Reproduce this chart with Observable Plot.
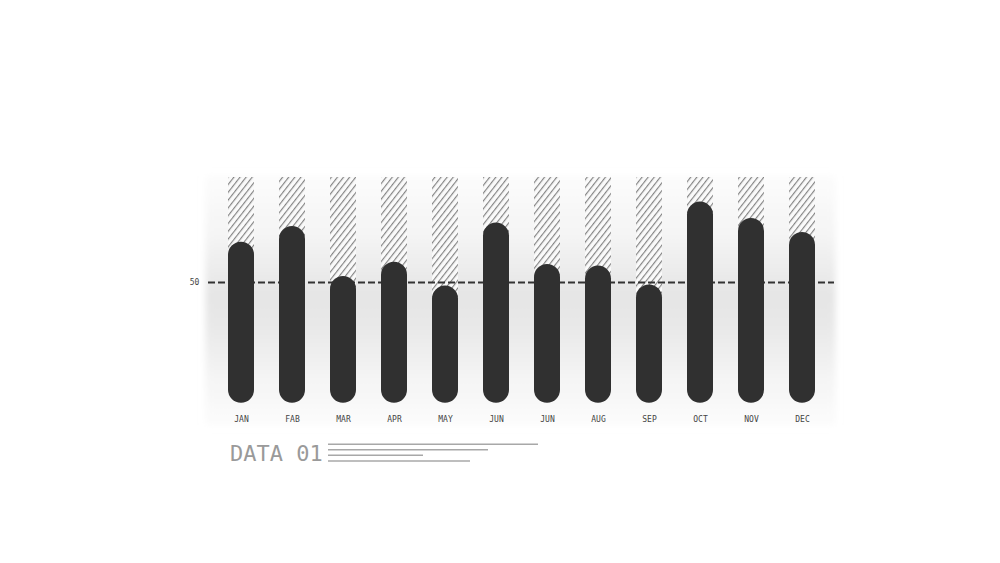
<!DOCTYPE html>
<html>
<head>
<meta charset="utf-8">
<script src="https://cdn.jsdelivr.net/npm/d3@7"></script>
<script src="https://cdn.jsdelivr.net/npm/@observablehq/plot@0.6"></script>
<style>
  html, body { margin: 0; padding: 0; background: #ffffff; }
  #wrap { position: relative; width: 1000px; height: 563px; overflow: hidden; }
  #wrap > svg { position: absolute; left: 0; top: 0; }
  #caption { position: absolute; left: 230px; top: 443px; font: 22px "DejaVu Sans Mono", monospace; line-height: 22px; color: #9a9a9a; white-space: pre; }
  #deco { position: absolute; left: 0; top: 0; }
</style>
</head>
<body>
<div id="wrap">
  <div id="caption">DATA 01</div>
</div>
<script>
// ---- data ----
const months = ["JAN","FAB","MAR","APR","MAY","JUN","JUN","AUG","SEP","OCT","NOV","DEC"];
const values = [66.7, 73.2, 52.5, 58.4, 48.5, 74.6, 57.5, 56.8, 49.0, 83.3, 76.5, 70.7];
const ceiling = 93.5;          // top of the hatched background columns
const referenceLine = [50];    // dashed reference value
const yTicks = [50];
const captionLineLengths = [210, 160, 95, 142]; // decorative lines next to "DATA 01"

const table = months.map((m, i) => ({i, month: m, value: values[i], cap: ceiling}));

const chart = Plot.plot({
  width: 1000,
  height: 563,
  marginLeft: 214.4,
  marginRight: 171.4,
  marginTop: 161.3,
  marginBottom: 160.3,
  style: {background: "transparent", overflow: "visible"},
  x: {type: "band", domain: d3.range(months.length), paddingInner: 0.49, paddingOuter: 0.245, axis: null},
  y: {domain: [0, 100], axis: null},
  marks: [
    Plot.frame({fill: "url(#panelGrad)", stroke: "none", insetTop: 13.7, insetBottom: -22.3, insetLeft: -9.4, insetRight: -6.4}),
    Plot.barY(table, {x: "i", y1: d => d.value - 6, y2: "cap", fill: "url(#hatch)"}),
    Plot.ruleY(referenceLine, {stroke: "#333333", strokeWidth: 2, strokeDasharray: "7,3", insetLeft: -6.4, insetRight: -5.4}),
    Plot.barY(table, {x: "i", y: "value", fill: "#303030", rx: 13, ry: 13}),
    Plot.axisX({tickSize: 0, tickPadding: 13.5, tickFormat: i => months[i], fontSize: 8, fontFamily: "DejaVu Sans Mono, monospace", fill: "#444", label: null}),
    Plot.axisY({ticks: yTicks, tickSize: 0, tickPadding: 15.5, fontSize: 8, fontFamily: "DejaVu Sans Mono, monospace", fill: "#444", label: null})
  ]
});

const svg = d3.select(chart);
const defs = svg.insert("defs", ":first-child");
const grad = defs.append("linearGradient").attr("id", "panelGrad").attr("x1", 0).attr("y1", 0).attr("x2", 0).attr("y2", 1);
[["0%", "#fcfcfc"], ["25%", "#f4f4f4"], ["48%", "#e5e5e5"], ["60%", "#e8e8e8"], ["80%", "#f4f4f4"], ["100%", "#fcfcfc"]]
  .forEach(([o, c]) => grad.append("stop").attr("offset", o).attr("stop-color", c));
const pat = defs.append("pattern").attr("id", "hatch").attr("patternUnits", "userSpaceOnUse")
  .attr("width", 4.8).attr("height", 4.8).attr("patternTransform", "rotate(38)");
pat.append("rect").attr("width", 4.8).attr("height", 4.8).attr("fill", "#fafafa");
pat.append("line").attr("x1", 0.6).attr("y1", 0).attr("x2", 0.6).attr("y2", 4.8)
  .attr("stroke", "#7e7e7e").attr("stroke-width", 1.1);
const filt = defs.append("filter").attr("id", "soft").attr("x", "-10%").attr("y", "-10%").attr("width", "120%").attr("height", "120%");
filt.append("feGaussianBlur").attr("stdDeviation", 3);
svg.selectAll('[aria-label="frame"]').attr("filter", "url(#soft)");
svg.selectAll('[aria-label="frame"] rect').attr("filter", "url(#soft)");

document.getElementById("wrap").insertBefore(chart, document.getElementById("caption"));

// decorative lines beside the caption
const deco = d3.select("#wrap").append("svg").attr("id", "deco").attr("width", 1000).attr("height", 563);
const ys = [444.3, 449.7, 455.3, 461];
captionLineLengths.forEach((len, k) => {
  deco.append("line").attr("x1", 328).attr("x2", 328 + len).attr("y1", ys[k]).attr("y2", ys[k])
    .attr("stroke", "#a8a8a8").attr("stroke-width", 1.5);
});
</script>
</body>
</html>
